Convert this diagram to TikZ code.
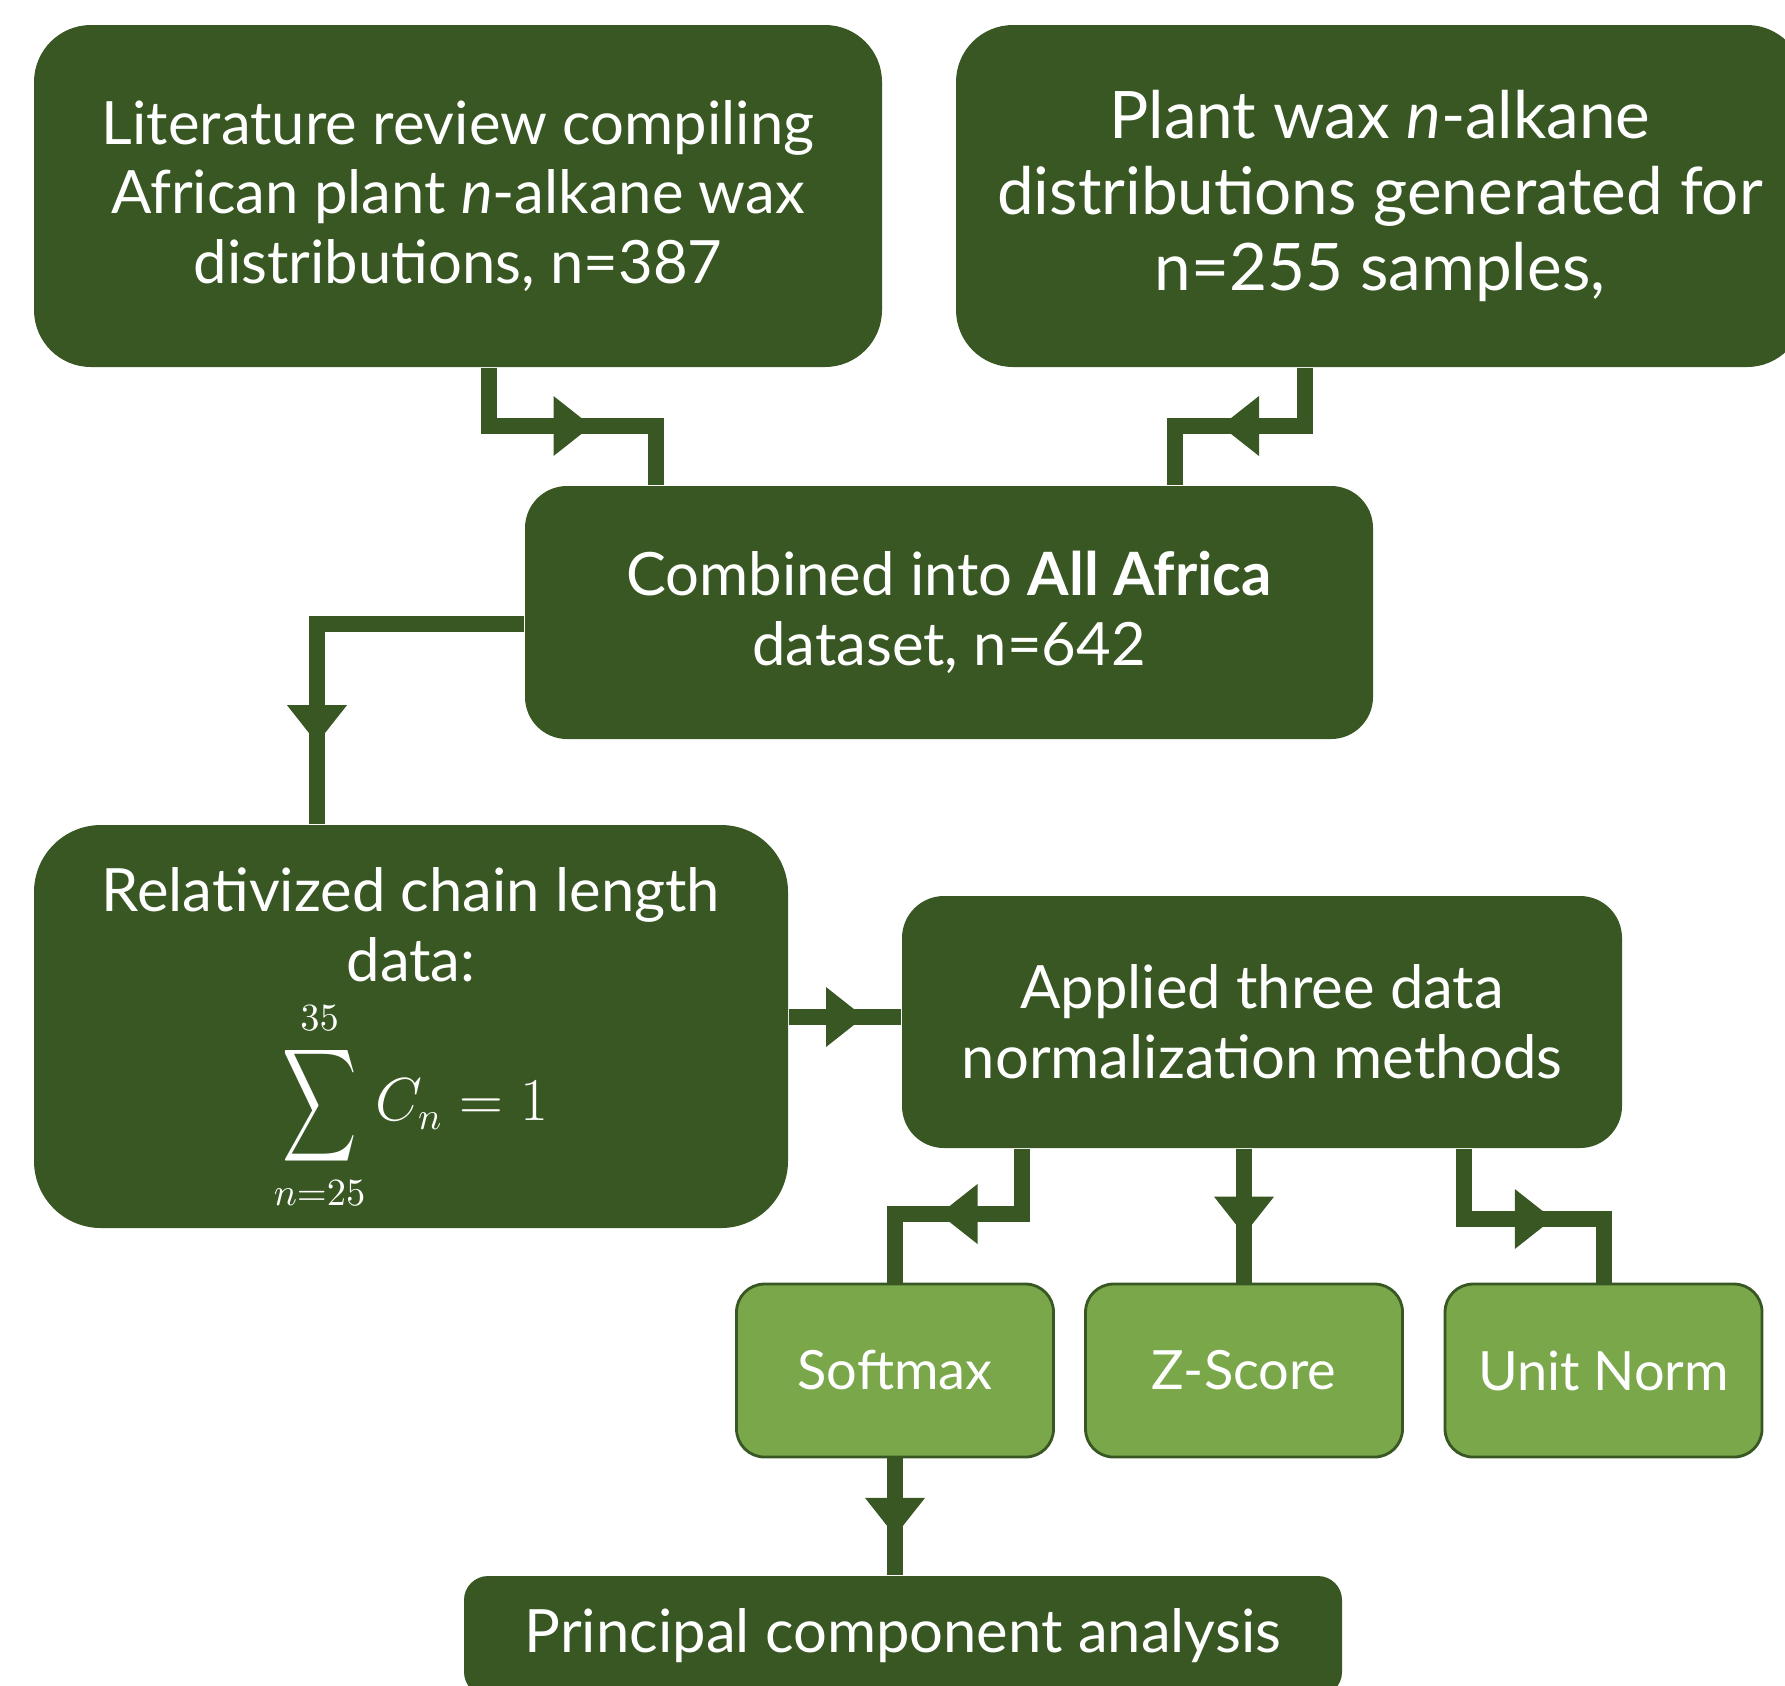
\documentclass[tikz,border=0pt]{standalone}
\usepackage{amsmath}
\usepackage{fontspec}
\setmainfont{Lato}
\usetikzlibrary{positioning, decorations.markings, calc}

\definecolor{leafdark}{HTML}{385723}
\definecolor{leaflight}{HTML}{79A74A}

\newcommand{\tallsum}{\mathop{\vcenter{\hbox{\scalebox{0.85}[1.3]{$\displaystyle\sum$}}}}\limits}

\tikzset{
  bigbox/.style={fill=leafdark, text=white, align=center, inner sep=0pt,
    font=\fontsize{17}{19.8}\selectfont},
  boxtext/.style={text=white, align=center, inner sep=0pt,
    font=\fontsize{17}{19.8}\selectfont},
  methodbox/.style={fill=leaflight, draw=leafdark, line width=0.8pt, text=white,
    minimum width=3.17cm, minimum height=1.73cm, rounded corners=0.28cm,
    font=\fontsize{15.4}{19}\selectfont},
  conn/.style={leafdark, line width=0.16cm},
  midtip/.style={decoration={markings, mark=at position 0.5 with
    {\fill[leafdark] (-0.19,-0.3) -- (0.19,0) -- (-0.19,0.3) -- cycle;}},
    postaction={decorate}},
}

\begin{document}
\begin{tikzpicture}
    \useasboundingbox (0,0) rectangle (17.85,-16.85);

    % Sources
    \node[bigbox, minimum width=8.48cm, minimum height=3.42cm, rounded corners=0.57cm]
      (litrev) at (4.58,-1.96)
      {Literature review compiling\\African plant \textit{n}-alkane wax\\distributions, n=387};
    \node[bigbox, minimum width=8.48cm, minimum height=3.42cm, rounded corners=0.57cm,
      font=\fontsize{18.65}{21.7}\selectfont]
      (plantwax) at (13.80,-1.96)
      {Plant wax \textit{n}-alkane\\distributions generated for\\n=255 samples,};

    % Merged dataset
    \node[bigbox, minimum width=8.48cm, minimum height=2.53cm, rounded corners=0.42cm]
      (combined) at (9.49,-6.125)
      {Combined into \textbf{All Africa}\\dataset, n=642};

    % Relativized data and normalization
    \node[bigbox, minimum width=7.54cm, minimum height=4.03cm, rounded corners=0.67cm]
      (relchain) at (4.11,-10.265) {};
    \node[boxtext] (relchaintext) at ([yshift=-0.13cm]relchain.center)
      {Relativized chain length\\data:\\[4pt]\fontsize{16}{19}\selectfont$\displaystyle\tallsum_{n=25}^{35} C_n = 1$};
    \node[bigbox, minimum width=7.20cm, minimum height=2.52cm, rounded corners=0.42cm]
      (applied) at (12.62,-10.22)
      {Applied three data\\normalization methods};

    % Methods
    \node[methodbox] (softmax) at (8.95,-13.705) {Softmax};
    \node[methodbox] (zscore) at (12.44,-13.705) {Z-Score};
    \node[methodbox] (unitnorm) at (16.035,-13.705) {Unit Norm};

    % PCA
    \node[bigbox, minimum width=8.78cm, minimum height=1.2cm, rounded corners=0.24cm]
      (pca) at (9.03,-16.36) {Principal component analysis};

    % Connectors
    \coordinate (ac1) at (4.89,-4.26);
    \coordinate (ac2) at (6.56,-4.26);
    \draw[conn] (ac1 |- litrev.south) -- (ac1) -- (ac2) -- (ac2 |- combined.north);
    \path[midtip] (ac1) -- (ac2);

    \coordinate (bc1) at (13.05,-4.26);
    \coordinate (bc2) at (11.75,-4.26);
    \draw[conn] (bc1 |- plantwax.south) -- (bc1) -- (bc2) -- (bc2 |- combined.north);
    \path[midtip] (bc1) -- (bc2);

    \coordinate (cd1) at (3.17,-6.24);
    \draw[conn] (cd1 -| combined.west) -- (cd1) -- (cd1 |- relchain.north);
    \path[midtip] (cd1) -- (cd1 |- relchain.north);

    \coordinate (de1) at (7.9,-10.17);
    \draw[conn, midtip] (de1 -| relchain.east) -- (de1 -| applied.west);

    \coordinate (es1) at (10.22,-12.14);
    \coordinate (es2) at (8.95,-12.14);
    \draw[conn] (es1 |- applied.south) -- (es1) -- (es2) -- (softmax.north);
    \path[midtip] (es1) -- (es2);

    \draw[conn, midtip] (zscore.north |- applied.south) -- (zscore.north);

    \coordinate (eu1) at (14.64,-12.19);
    \coordinate (eu2) at (16.035,-12.19);
    \draw[conn] (eu1 |- applied.south) -- (eu1) -- (eu2) -- (unitnorm.north);
    \path[midtip] (eu1) -- (eu2);

    \draw[conn, midtip] (softmax.south) -- (softmax.south |- pca.north);
\end{tikzpicture}
\end{document}
